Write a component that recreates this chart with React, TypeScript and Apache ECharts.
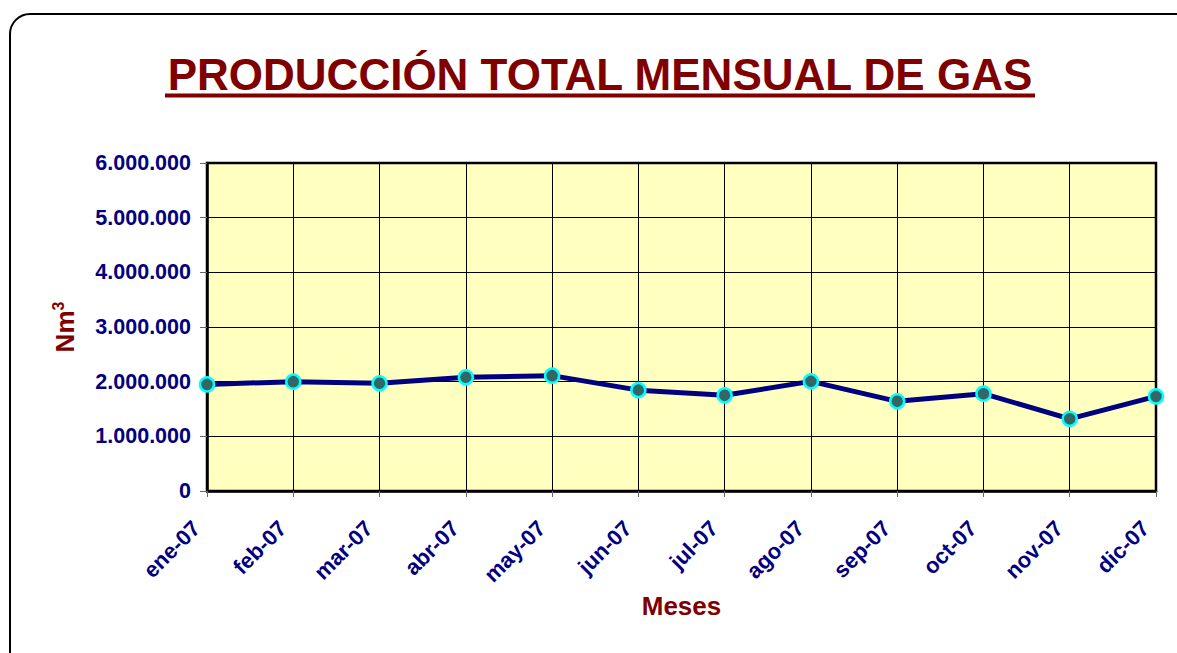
import { useEffect, useRef } from "react";
import * as echarts from "echarts";

const months = ["ene-07", "feb-07", "mar-07", "abr-07", "may-07", "jun-07", "jul-07", "ago-07", "sep-07", "oct-07", "nov-07", "dic-07"];
const production = [1950000, 2000000, 1970000, 2080000, 2110000, 1845000, 1750000, 2005000, 1640000, 1780000, 1320000, 1730000];
const yMin = 0;
const yMax = 6000000;
const yStep = 1000000;
const titleText = "PRODUCCIÓN TOTAL MENSUAL DE GAS";
const xName = "Meses";

const FONT = "'Liberation Sans', Arial, sans-serif";

function fmt(v: number): string {
  return String(Math.round(v)).replace(/\B(?=(\d{3})+(?!\d))/g, ".");
}

export default function App() {
  const ref = useRef<HTMLDivElement>(null);
  useEffect(() => {
    if (!ref.current) return;
    const chart = echarts.init(ref.current, undefined, { renderer: "svg" });
    chart.setOption({
      animation: false,
      backgroundColor: "#ffffff",
      graphic: [
        {
          type: "rect",
          z: -10,
          shape: { x: 10, y: 14, width: 1190, height: 660, r: 20 },
          style: { fill: "none", stroke: "#000000", lineWidth: 2 },
        },
        {
          type: "text",
          x: 600,
          y: 74,
          style: {
            text: titleText,
            fill: "#800000",
            font: `bold 44px ${FONT}`,
            textAlign: "center",
            textVerticalAlign: "middle",
          },
        },
        {
          type: "rect",
          shape: { x: 165, y: 93.5, width: 870, height: 4 },
          style: { fill: "#800000" },
        },
      ],
      grid: {
        left: 207,
        top: 163,
        right: 21,
        bottom: 162,
        show: true,
        backgroundColor: "#FFFFC0",
        borderColor: "#000000",
        borderWidth: 2.5,
        containLabel: false,
      },
      xAxis: {
        type: "category",
        data: months,
        boundaryGap: false,
        name: xName,
        nameLocation: "middle",
        nameGap: 99,
        nameTextStyle: { color: "#800000", fontWeight: "bold", fontSize: 26, fontFamily: FONT },
        axisLine: { show: true, lineStyle: { color: "#000000", width: 2.5 } },
        axisTick: { show: true, inside: false, length: 6, alignWithLabel: true, lineStyle: { color: "#666666", width: 1 } },
        axisLabel: {
          interval: 0,
          rotate: 45,
          margin: 23,
          padding: [0, 15, 0, 0],
          color: "#000080",
          fontWeight: "bold",
          fontSize: 22,
          fontFamily: FONT,
        },
        splitLine: { show: true, lineStyle: { color: "#000000", width: 1 } },
      },
      yAxis: {
        type: "value",
        min: yMin,
        max: yMax,
        interval: yStep,
        name: "Nm{sup|3}",
        nameLocation: "middle",
        nameGap: 128,
        nameRotate: 90,
        nameTextStyle: {
          color: "#800000",
          fontWeight: "bold",
          fontSize: 26,
          fontFamily: FONT,
          rich: {
            sup: { color: "#800000", fontWeight: "bold", fontSize: 16, fontFamily: FONT, verticalAlign: "top", padding: [0, 0, 13, 0] },
          },
        },
        axisLine: { show: true, lineStyle: { color: "#000000", width: 2.5 } },
        axisTick: { show: true, inside: false, length: 7, lineStyle: { color: "#666666", width: 1 } },
        axisLabel: {
          margin: 16,
          color: "#000080",
          fontWeight: "bold",
          fontSize: 21.5,
          fontFamily: FONT,
          formatter: (v: number) => fmt(v),
        },
        splitLine: { show: true, lineStyle: { color: "#000000", width: 1 } },
      },
      series: [
        {
          type: "line",
          data: production,
          symbol: "circle",
          symbolSize: 14,
          lineStyle: { color: "#000080", width: 5 },
          itemStyle: { color: "#336666", borderColor: "#00FFFF", borderWidth: 2.5 },
          z: 5,
        },
      ],
    });
    return () => chart.dispose();
  }, []);
  return <div ref={ref} style={{ position: "absolute", left: 0, top: 0, width: 1177, height: 653 }} />;
}
